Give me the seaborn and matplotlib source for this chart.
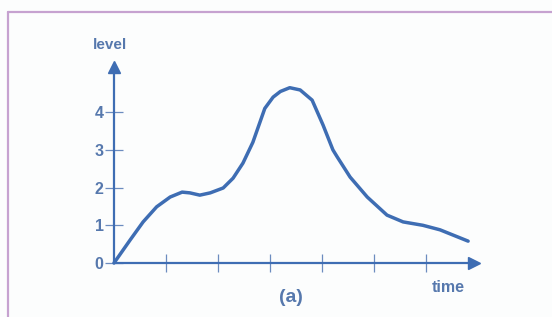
import matplotlib
matplotlib.use("Agg")
import matplotlib.pyplot as plt
from matplotlib.lines import Line2D
import seaborn as sns
import pandas as pd

# Data
time_vals = [0, 0.31, 0.56, 0.82, 1.08, 1.31, 1.46, 1.65, 1.85, 2.1, 2.29, 2.48,
             2.67, 2.9, 3.06, 3.2, 3.38, 3.58, 3.81, 4.02, 4.21, 4.29, 4.54, 4.87,
             5.25, 5.56, 5.94, 6.27, 6.81]
level_vals = [0, 0.61, 1.09, 1.49, 1.75, 1.88, 1.86, 1.80, 1.86, 1.99, 2.25, 2.65,
              3.2, 4.1, 4.40, 4.55, 4.65, 4.59, 4.32, 3.66, 3.0, 2.82, 2.28, 1.75,
              1.27, 1.09, 1.0, 0.88, 0.58]
y_ticks = [0, 1, 2, 3, 4]
x_ticks = [1, 2, 3, 4, 5, 6]

df = pd.DataFrame({"time": time_vals, "level": level_vals})

sns.set_theme(style="white")
plt.rcParams['font.family'] = ['Liberation Sans', 'DejaVu Sans']

W, H = 552, 317
fig = plt.figure(figsize=(W / 100, H / 100), dpi=100)
fig.patch.set_facecolor("#fcfdfd")

blue = "#3e6db3"
txt = "#5678ad"

# axes: origin at pixel (114, 263); 52 px per time unit, 37.7 px per level unit
x0, y0 = 114, 263
xmax, ymax = 6.92, 5.2
ax = fig.add_axes([x0 / W, (H - y0) / H, xmax * 52 / W, ymax * 37.7 / H])
ax.set_facecolor("none")
ax.set_xlim(0, xmax)
ax.set_ylim(0, ymax)

sns.lineplot(data=df, x="time", y="level", ax=ax, color=blue, linewidth=2.5,
             sort=False, estimator=None, clip_on=False)
ax.lines[0].set_solid_joinstyle("round")
ax.lines[0].set_solid_capstyle("round")

for s in ["top", "right"]:
    ax.spines[s].set_visible(False)
for s in ["left", "bottom"]:
    ax.spines[s].set_color(blue)
    ax.spines[s].set_linewidth(1.6)

# arrow heads
ax.plot(1, 0, ">", color=blue, markersize=8, transform=ax.get_yaxis_transform(), clip_on=False)
ax.plot(0, 1, "^", color=blue, markersize=8, transform=ax.get_xaxis_transform(), clip_on=False)

ax.set_xticks(x_ticks)
ax.set_xticklabels([])
ax.set_yticks(y_ticks)
ax.set_yticklabels([str(v) for v in y_ticks])
ax.tick_params(axis="both", bottom=True, left=True, direction="inout", length=13,
               width=0.9, color="#6c8cbf", labelsize=11.5, labelcolor=txt, pad=1)
for lab in ax.get_yticklabels():
    lab.set_fontweight("bold")
ax.set_xlabel("")
ax.set_ylabel("")

fig.text(110 / W, 1 - 45 / H, "level", ha="center", va="center", fontsize=11,
         fontweight="bold", color=txt)
fig.text(448 / W, 1 - 287 / H, "time", ha="center", va="center", fontsize=11.5,
         fontweight="bold", color=txt)
fig.text(291 / W, 1 - 298 / H, "(a)", ha="center", va="center", fontsize=14,
         fontweight="bold", color=txt)

# purple frame
border = "#c6a2d0"
fig.add_artist(Line2D([8 / W, 1], [1 - 12 / H, 1 - 12 / H], color=border, linewidth=1.6,
                      transform=fig.transFigure))
fig.add_artist(Line2D([8 / W, 8 / W], [0, 1 - 12 / H], color=border, linewidth=1.6,
                      transform=fig.transFigure))

fig.savefig("out.png", dpi=100, facecolor=fig.get_facecolor())
